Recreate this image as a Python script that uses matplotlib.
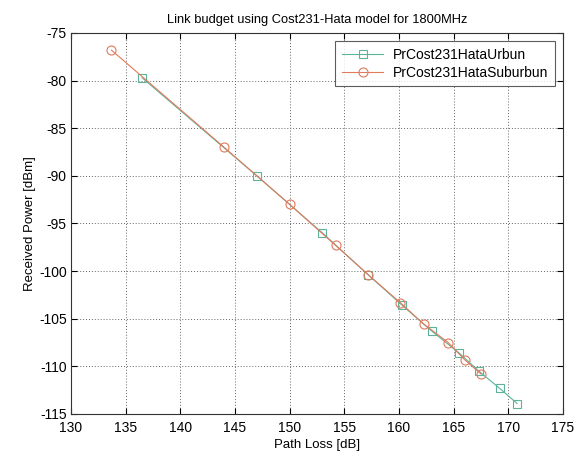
import matplotlib
matplotlib.use('Agg')
from matplotlib import pyplot as plt

plt.rcParams['font.family'] = ['Liberation Sans', 'DejaVu Sans']
plt.rcParams['axes.unicode_minus'] = False

# path loss [dB] and received power [dBm]
pl_urban = [136.5, 147.0, 153.0, 157.2, 160.3, 163.0, 165.5, 167.3, 169.2, 170.8]
pr_urban = [-79.7, -90.0, -96.0, -100.4, -103.6, -106.3, -108.6, -110.5, -112.3, -113.9]
pl_suburban = [133.7, 144.0, 150.0, 154.2, 157.2, 160.1, 162.3, 164.5, 166.0, 167.5]
pr_suburban = [-76.8, -87.0, -93.0, -97.3, -100.4, -103.3, -105.6, -107.5, -109.3, -110.8]

xticks = list(range(130, 176, 5))
yticks = list(range(-115, -74, 5))

fig = plt.figure(figsize=(5.86, 4.57), dpi=100)
ax = fig.add_axes([0.1212, 0.0941, 0.8396, 0.8337])

ax.plot(pl_urban, pr_urban, c='#5cb39a', lw=0.8, marker='s', ms=6,
        mfc='none', mec='#5cb39a', mew=0.8, label='PrCost231HataUrbun')
ax.plot(pl_suburban, pr_suburban, c='#e07a5c', lw=0.8, marker='o', ms=6.5,
        mfc='none', mec='#e07a5c', mew=0.8, label='PrCost231HataSuburbun')

ax.set_xlim(130, 175)
ax.set_ylim(-115, -75)
ax.set_xticks(xticks)
ax.set_yticks(yticks)
ax.tick_params(direction='in', top=True, right=True, labelsize=10, length=4)
ax.tick_params(axis='x', pad=5)
ax.tick_params(axis='y', pad=3)
ax.grid(True, ls=(0, (1, 2)), c='#666666', lw=0.7)
for s in ax.spines.values():
    s.set_linewidth(0.8)
    s.set_color('#333333')
ax.set_xlabel('Path Loss [dB]', fontsize=9.5, labelpad=3)
ax.set_ylabel('Received Power [dBm]', fontsize=9.5, labelpad=2)
ax.set_title('Link budget using Cost231-Hata model for 1800MHz', fontsize=9.3, pad=7)
leg = ax.legend(loc='upper right', fontsize=10, fancybox=False, edgecolor='#333333',
                borderaxespad=0.6, handlelength=3.0, borderpad=0.45, labelspacing=0.3,
                handletextpad=0.7)
leg.get_frame().set_linewidth(0.8)

fig.savefig('out.png', dpi=100)
